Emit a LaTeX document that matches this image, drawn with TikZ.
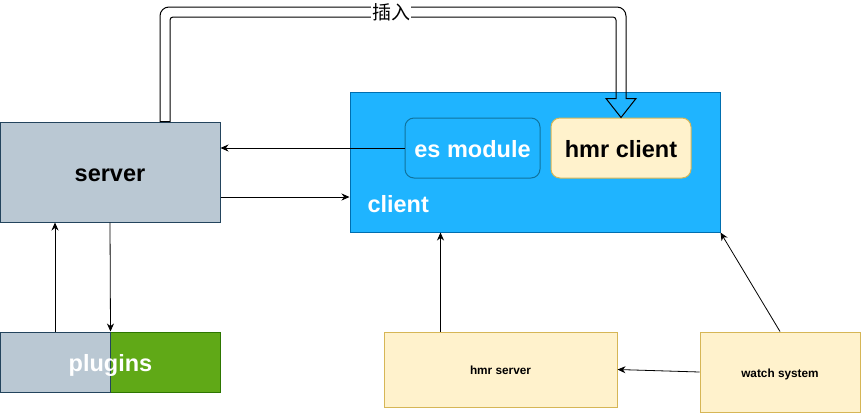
\documentclass[tikz,border=0pt]{standalone}
\usepackage{fontspec}
\setmainfont{Liberation Sans}
\newfontfamily\cjkfont{Noto Sans CJK SC}
\usepackage{xcolor}
\definecolor{servergray}{HTML}{BAC8D3}
\definecolor{serverline}{HTML}{23445D}
\definecolor{plugingreen}{HTML}{60A917}
\definecolor{pluginline}{HTML}{2D7600}
\definecolor{clientblue}{HTML}{1FB4FF}
\definecolor{clientline}{HTML}{006EAF}
\definecolor{moduleline}{HTML}{10739E}
\definecolor{hmryellow}{HTML}{FFF2CC}
\definecolor{hmrline}{HTML}{D6B656}
\usetikzlibrary{arrows.meta,positioning,calc}

\begin{document}
\begin{tikzpicture}[
        x=1pt, y=-1pt,
        box/.style={rectangle, inner sep=0pt, line width=1pt, align=center},
        graybox/.style={box, draw=serverline, fill=servergray},
        greenbox/.style={box, draw=pluginline, fill=plugingreen},
        bluebox/.style={box, draw=clientline, fill=clientblue},
        yellowbox/.style={box, draw=hmrline, fill=hmryellow},
        bigtext/.style={font=\fontsize{23.5}{28}\selectfont\bfseries, text height=18pt, text depth=0pt},
        smalltext/.style={font=\fontsize{11.8}{14}\selectfont\bfseries, text height=10pt, text depth=0pt},
        arrow/.style={-{Stealth[length=8pt,width=7pt]}, line width=0.8pt},
        hollow/.style={draw, line width=1pt}
    ]
        \useasboundingbox (0,0) rectangle (861,413);

        % Server
        \node[graybox, bigtext, minimum width=220pt, minimum height=100pt] (server) at (110,172) {server};

        % Plugins
        \node[greenbox, minimum width=110pt, minimum height=60pt] (pluginsright) at (165,362) {};
        \node[graybox, minimum width=110pt, minimum height=60pt, left=-1pt of pluginsright] (pluginsleft) {};
        \node[bigtext, text=white] (plugins) at (pluginsleft.east) {plugins};

        % Client
        \node[bluebox, minimum width=370pt, minimum height=140pt] (client) at (535,162) {};
        \node[bigtext, text=white, anchor=west] (clientlabel) at (364,203) {client};
        \node[bluebox, draw=moduleline, rounded corners=9pt, bigtext, text=white, minimum width=135pt, minimum height=60pt] (esmodule) at (472.5,148) {es module};
        \node[yellowbox, rounded corners=9pt, bigtext, minimum width=140pt, minimum height=60pt, right=10pt of esmodule] (hmrclient) {hmr client};

        % HMR server and watcher
        \node[yellowbox, smalltext, minimum width=233pt, minimum height=75pt] (hmrserver) at (500.5,369.5) {hmr server};
        \node[yellowbox, smalltext, minimum width=160pt, minimum height=80pt] (watch) at (780,372) {watch system};

        % Arrows
        \draw[arrow] (esmodule.west) -- (esmodule.west -| server.east);
        \draw[arrow] ([yshift=-25pt]server.east) -- ([yshift=-25pt]server.east -| client.west);
        \draw[arrow] (server.south) -- (pluginsleft.north east);
        \draw[arrow] (pluginsleft.north) -- (pluginsleft.north |- server.south);
        \draw[arrow] ([xshift=57pt]hmrserver.north west) -- ([xshift=57pt]hmrserver.north west |- client.south);
        \draw[arrow] (watch.north) -- (client.south east);
        \draw[arrow] (watch.west) -- (hmrserver.east);

        % Insert arrow
        \coordinate (insertstart) at ([xshift=55pt]server.north);
        \coordinate (bend) at (391,12);
        \draw[hollow] ($(insertstart)+(-5,0)$) [rounded corners=9pt]
            -- ($(insertstart |- bend)+(-5,-5)$)
            -- ($(hmrclient.north |- bend)+(5,-5)$) [sharp corners]
            -- ($(hmrclient.north)+(5,-19)$)
            -- ($(hmrclient.north)+(15,-19)$)
            -- (hmrclient.north)
            -- ($(hmrclient.north)+(-15,-19)$)
            -- ($(hmrclient.north)+(-5,-19)$) [rounded corners=3pt]
            -- ($(hmrclient.north |- bend)+(-5,5)$)
            -- ($(insertstart |- bend)+(5,5)$) [sharp corners]
            -- ($(insertstart)+(5,0)$) -- cycle;
        \node[fill=white, inner sep=1pt, font=\cjkfont\fontsize{19}{22}\selectfont] (insert) at (bend) {插入};

    \end{tikzpicture}
\end{document}
